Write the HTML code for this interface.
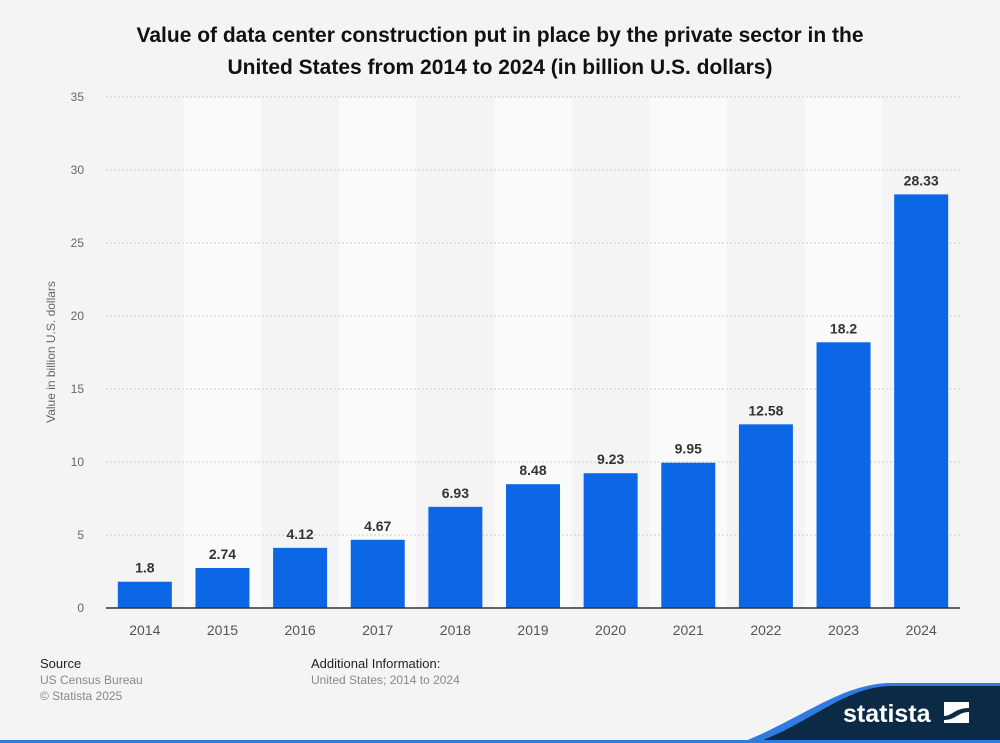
<!DOCTYPE html>
<html><head><meta charset="utf-8"><style>
body{margin:0;width:1000px;height:743px;background:#f4f4f4;font-family:"Liberation Sans",Arial,sans-serif;overflow:hidden;position:relative}
</style></head><body>
<svg width="1000" height="743" style="position:absolute;left:0;top:0">
<text x="500" y="42" text-anchor="middle" font-size="21" font-weight="bold" fill="#111">Value of data center construction put in place by the private sector in the</text>
<text x="500" y="74" text-anchor="middle" font-size="21" font-weight="bold" fill="#111">United States from 2014 to 2024 (in billion U.S. dollars)</text>
<g id="bands"></g><g id="grid"></g><g id="bars"></g>
<text transform="translate(55,352) rotate(-90)" text-anchor="middle" font-size="12" fill="#666">Value in billion U.S. dollars</text>
<text x="40" y="668" font-size="13" fill="#222">Source</text>
<text x="40" y="684" font-size="12" fill="#888">US Census Bureau</text>
<text x="40" y="700" font-size="12" fill="#888">© Statista 2025</text>
<text x="311" y="668" font-size="13" fill="#222">Additional Information:</text>
<text x="311" y="684" font-size="12" fill="#888">United States; 2014 to 2024</text>
<path d="M740,743 C800,720 840,684 890,683 L1000,683 L1000,743 Z" fill="#2f7be0"/>
<path d="M755,743 C810,724 845,686 892,686 L1000,686 L1000,743 Z" fill="#0b2a45"/>
<rect x="0" y="740" width="1000" height="3" fill="#2f7be0"/>
<text x="843" y="722" font-size="25" font-weight="bold" fill="#fff">statista</text>
<g><rect x="944" y="702" width="25" height="21" fill="#fff"/><path d="M944,716 C952,716 955,708 969,708 L969,712 C958,712 956,720 944,720 Z" fill="#0b2a45"/></g>
</svg>
<script>
const categories=["2014","2015","2016","2017","2018","2019","2020","2021","2022","2023","2024"];
const values=[1.8,2.74,4.12,4.67,6.93,8.48,9.23,9.95,12.58,18.2,28.33];
const labels=["1.8","2.74","4.12","4.67","6.93","8.48","9.23","9.95","12.58","18.2","28.33"];
const yTicks=[0,5,10,15,20,25,30,35];
const NS="http://www.w3.org/2000/svg";
const x0=106,x1=960,y0=608,yTop=97,yMax=35;
const bw=(x1-x0)/categories.length;
const y=v=>y0-(v/yMax)*(y0-yTop);
const xc=i=>x0+bw*(i+0.5);
function mk(t,a,p){const e=document.createElementNS(NS,t);for(const k in a)e.setAttribute(k,a[k]);document.getElementById(p).appendChild(e);return e;}
categories.forEach((c,i)=>{if(i%2===1){const r=mk('rect',{x:x0+bw*i,y:yTop,width:bw,height:y0-yTop,fill:'#fafafa'},'bands');

}});
yTicks.forEach(t=>{if(t>0){const l=mk('line',{x1:x0,x2:x1,y1:y(t),y2:y(t),stroke:'#ccc','stroke-dasharray':'2,2'},'grid');

}
const tx=mk('text',{x:84,y:y(t)+4,'text-anchor':'end','font-size':12,fill:'#666'},'grid');tx.textContent=t;

});
categories.forEach((c,i)=>{
const r=mk('rect',{x:xc(i)-27,y:y(values[i]),width:54,height:y0-y(values[i]),fill:'#0b67e6'},'bars');


const t=mk('text',{x:xc(i),y:y(values[i])-9,'text-anchor':'middle','font-size':14,'font-weight':'bold',fill:'#333'},'bars');t.textContent=labels[i];


const xl=mk('text',{x:xc(i),y:y0+27,'text-anchor':'middle','font-size':14,fill:'#555'},'bars');xl.textContent=c;

});
const ax=mk('line',{x1:x0,x2:x1,y1:y0,y2:y0,stroke:'#333','stroke-width':1.5},'bars');


</script>
</body></html>
